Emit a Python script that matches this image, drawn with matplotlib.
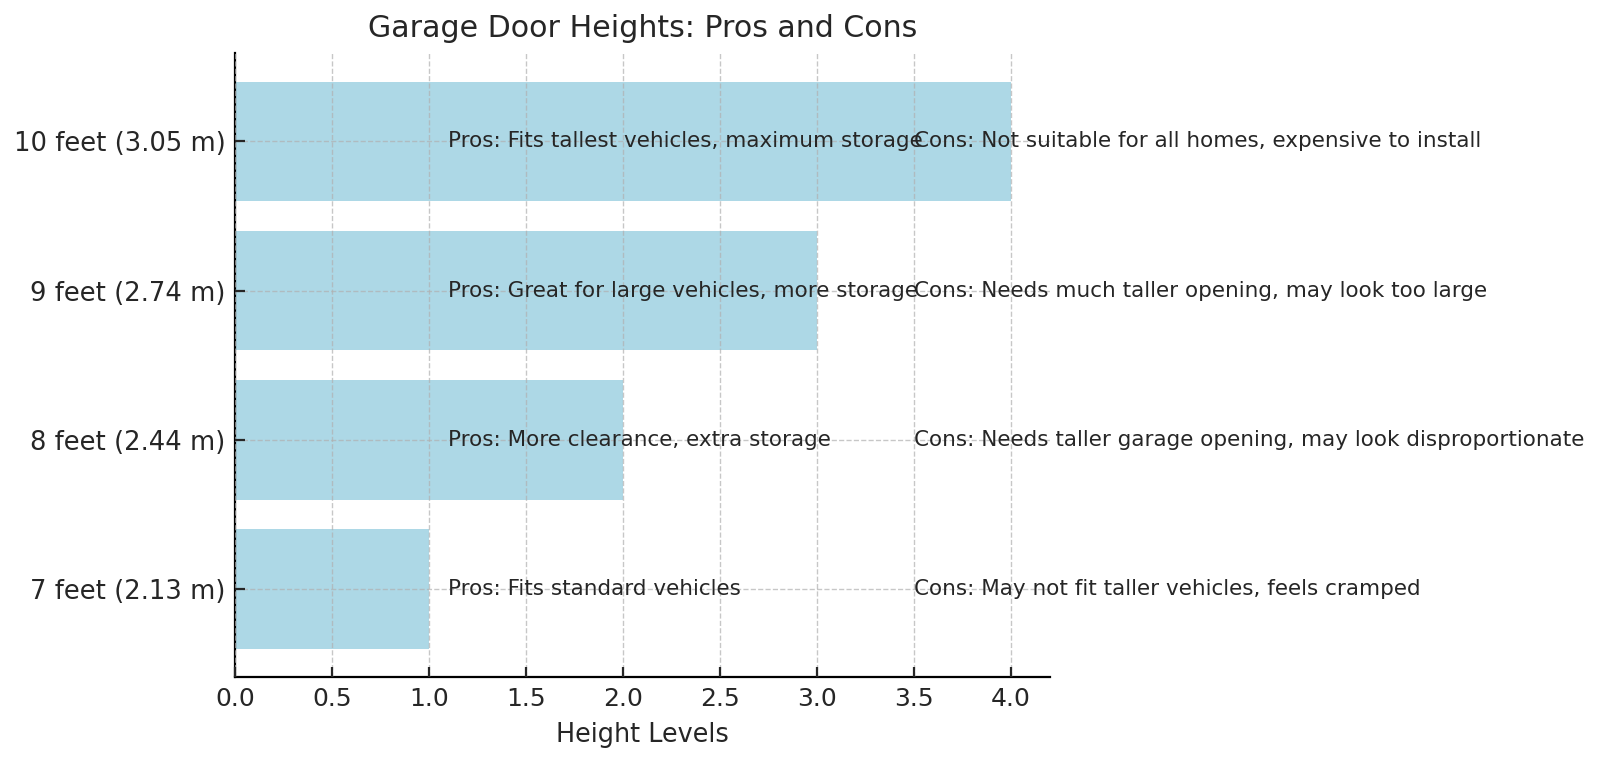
import matplotlib
matplotlib.use('Agg')
import matplotlib.pyplot as plt

title = 'Garage Door Heights: Pros and Cons'

heights = ['7 feet (2.13 m)', '8 feet (2.44 m)', '9 feet (2.74 m)', '10 feet (3.05 m)']
levels = [1, 2, 3, 4]
pros = ['Pros: Fits standard vehicles',
        'Pros: More clearance, extra storage',
        'Pros: Great for large vehicles, more storage',
        'Pros: Fits tallest vehicles, maximum storage']
cons = ['Cons: May not fit taller vehicles, feels cramped',
        'Cons: Needs taller garage opening, may look disproportionate',
        'Cons: Needs much taller opening, may look too large',
        'Cons: Not suitable for all homes, expensive to install']

txt = '#262626'
fig = plt.figure(figsize=(8, 3.8), dpi=200)
ax = fig.add_axes([0.147, 0.109, 0.509, 0.821])

ax.barh(heights, levels, color='lightblue', height=0.8)
for i in range(len(heights)):
    ax.text(1.1, i, pros[i], va='center', ha='left', fontsize=7.75, color=txt)
    ax.text(3.5, i, cons[i], va='center', ha='left', fontsize=7.75, color=txt)

ax.set_xlabel('Height Levels', fontsize=9.2, color=txt)
ax.set_title(title, fontsize=10.8, color=txt)
ax.grid(True, linestyle='--', color='#b0b0b0', alpha=0.7, linewidth=0.5)
ax.set_axisbelow(False)
ax.spines['top'].set_visible(False)
ax.spines['right'].set_visible(False)
ax.tick_params(direction='in', colors=txt, labelcolor=txt)
ax.tick_params(axis='y', labelsize=9.3)
ax.tick_params(axis='x', labelsize=9)

plt.savefig('out.png', dpi=200)
